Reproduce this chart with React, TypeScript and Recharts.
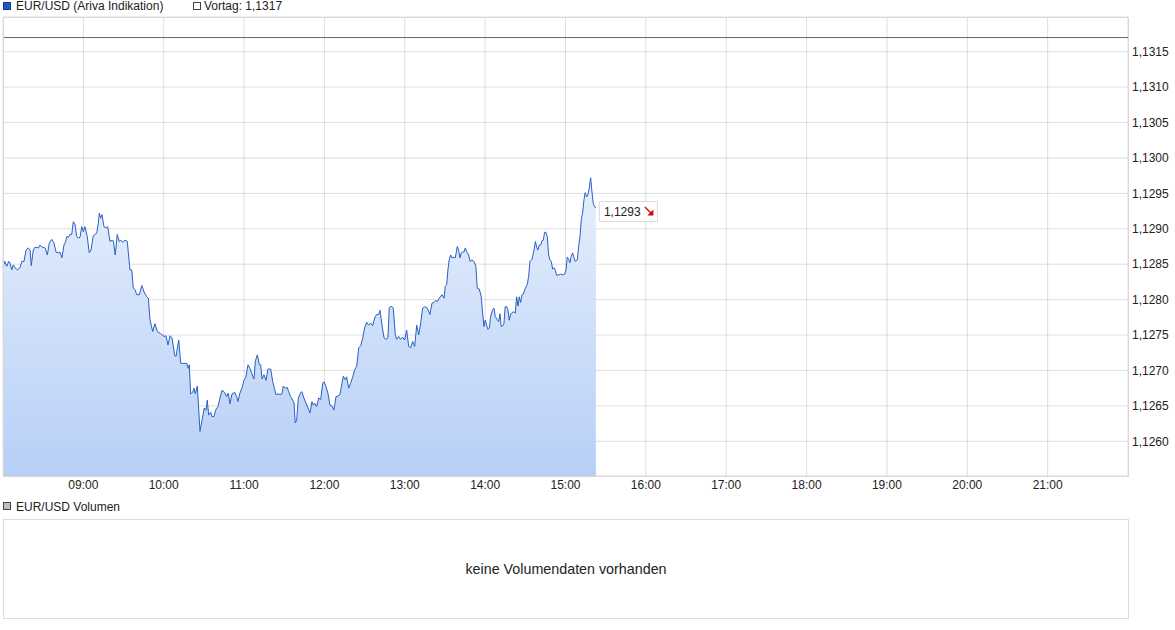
import React from 'react';
import { AreaChart, Area, XAxis, YAxis, CartesianGrid, ReferenceLine, ReferenceDot } from 'recharts';

// minutes after 08:00
const TIMES = [
  0, 1.3, 2.8, 4.3, 5.2, 6.5, 7.7, 9.0, 10.7, 12.7,
  14.0, 15.7, 17.2, 18.9, 20.2, 21.1, 22.6, 23.9, 26.4, 27.6,
  29.3, 31.4, 33.1, 34.6, 36.4, 38.1, 39.6, 41.3, 42.6, 44.0,
  45.5, 46.8, 47.6, 48.8, 50.0, 51.3, 52.5, 53.8, 55.0, 56.2,
  57.5, 58.8, 60.0, 61.2, 62.9, 64.4, 65.7, 67.4, 70.0, 71.2,
  71.9, 72.9, 73.9, 75.4, 76.9, 78.2, 79.9, 81.4, 82.4, 83.8,
  85.3, 86.8, 87.9, 89.4, 91.1, 92.8, 94.8, 96.1, 97.3, 98.6,
  99.8, 101.8, 103.6, 105.3, 107.3, 108.5, 109.8, 111.8, 113.5, 115.2,
  117.7, 120.2, 121.7, 123.2, 124.7, 126.2, 128.2, 129.2, 131.2, 132.7,
  134.6, 137.2, 138.3, 139.1, 140.1, 141.6, 142.6, 143.6, 145.1, 147.1,
  148.6, 150.3, 151.6, 152.5, 153.6, 155.1, 156.0, 157.5, 159.0, 160.5,
  162.0, 163.5, 165.5, 167.0, 168.2, 169.5, 171.0, 173.0, 174.5, 175.4,
  176.9, 178.4, 179.9, 181.4, 182.9, 184.4, 185.9, 187.4, 188.4, 189.9,
  191.4, 192.4, 193.4, 194.9, 196.4, 197.8, 199.9, 201.4, 202.9, 203.8,
  205.3, 206.8, 208.3, 209.3, 210.8, 212.3, 213.3, 214.8, 216.3, 217.3,
  218.2, 219.3, 220.5, 222.3, 223.2, 224.7, 226.2, 227.7, 229.2, 230.7,
  231.7, 232.7, 234.2, 235.7, 237.2, 238.7, 239.7, 241.2, 242.6, 244.1,
  245.6, 247.1, 248.6, 250.1, 251.6, 253.1, 254.1, 255.6, 256.6, 258.1,
  259.6, 261.1, 262.6, 264.1, 265.6, 267.1, 268.6, 270.0, 271.5, 273.0,
  274.5, 276.0, 277.5, 279.0, 280.5, 281.5, 283.0, 284.5, 285.9, 287.4,
  288.4, 289.9, 291.4, 292.9, 293.9, 295.4, 296.9, 298.4, 299.9, 301.4,
  302.9, 304.4, 305.9, 307.4, 308.9, 310.4, 311.9, 313.3, 314.8, 316.8,
  318.8, 320.3, 321.8, 323.3, 324.3, 325.7, 327.8, 329.3, 330.2, 331.3,
  332.2, 333.2, 334.3, 335.2, 336.7, 337.7, 339.2, 340.2, 341.2, 342.2,
  343.2, 344.2, 345.2, 346.2, 347.7, 348.7, 350.2, 351.6, 353.1, 354.1,
  355.6, 357.1, 358.1, 359.1, 360.1, 361.1, 362.1, 363.1, 364.1, 365.6,
  366.6, 367.6, 369.0, 370.1, 371.1, 372.0, 373.1, 374.0, 375.0, 376.1,
  377.0, 378.0, 379.1, 380.0, 381.0, 382.5, 383.5, 384.5, 385.5, 386.5,
  387.5, 388.5, 390.0, 391.4, 392.5, 393.5, 395.0, 396.5, 397.5, 398.5,
  399.4, 400.4, 401.5, 402.4, 403.4, 404.4, 405.4, 406.4, 407.4, 408.4,
  409.4, 410.4, 411.4, 412.3, 413.4, 414.9, 416.4, 417.9, 419.4, 420.4,
  421.3, 422.3, 423.3, 424.3, 425.3, 426.3, 427.3, 428.8, 429.8, 430.8,
  431.8, 432.8, 433.8, 434.7, 435.8, 436.8, 437.7, 438.8, 439.7, 440.7,
  441.7, 442.7,
];

const PRICES = [
  1.12845, 1.12854, 1.12847, 1.12854, 1.12852, 1.12842, 1.12849, 1.12845, 1.12842, 1.12845,
  1.12854, 1.12854, 1.12870, 1.12873, 1.12870, 1.12848, 1.12870, 1.12874, 1.12873, 1.12877,
  1.12874, 1.12873, 1.12863, 1.12880, 1.12885, 1.12880, 1.12867, 1.12866, 1.12867, 1.12859,
  1.12877, 1.12882, 1.12889, 1.12888, 1.12892, 1.12892, 1.12910, 1.12906, 1.12889, 1.12887,
  1.12888, 1.12903, 1.12896, 1.12903, 1.12889, 1.12866, 1.12870, 1.12890, 1.12894, 1.12908,
  1.12922, 1.12915, 1.12920, 1.12903, 1.12901, 1.12903, 1.12882, 1.12884, 1.12883, 1.12863,
  1.12892, 1.12882, 1.12884, 1.12881, 1.12884, 1.12882, 1.12842, 1.12842, 1.12816, 1.12814,
  1.12807, 1.12807, 1.12820, 1.12811, 1.12804, 1.12802, 1.12771, 1.12755, 1.12766, 1.12755,
  1.12752, 1.12748, 1.12749, 1.12736, 1.12749, 1.12746, 1.12721, 1.12720, 1.12743, 1.12710,
  1.12710, 1.12710, 1.12703, 1.12708, 1.12667, 1.12669, 1.12675, 1.12667, 1.12678, 1.12614,
  1.12630, 1.12647, 1.12644, 1.12658, 1.12637, 1.12641, 1.12635, 1.12635, 1.12645, 1.12649,
  1.12661, 1.12672, 1.12669, 1.12663, 1.12668, 1.12653, 1.12667, 1.12669, 1.12663, 1.12656,
  1.12668, 1.12675, 1.12686, 1.12691, 1.12708, 1.12703, 1.12695, 1.12688, 1.12713, 1.12722,
  1.12708, 1.12708, 1.12688, 1.12694, 1.12686, 1.12702, 1.12702, 1.12684, 1.12673, 1.12666,
  1.12667, 1.12666, 1.12667, 1.12678, 1.12675, 1.12676, 1.12670, 1.12663, 1.12658, 1.12654,
  1.12626, 1.12630, 1.12661, 1.12669, 1.12670, 1.12661, 1.12654, 1.12647, 1.12640, 1.12656,
  1.12651, 1.12654, 1.12649, 1.12661, 1.12659, 1.12682, 1.12684, 1.12677, 1.12668, 1.12651,
  1.12650, 1.12644, 1.12663, 1.12664, 1.12666, 1.12682, 1.12692, 1.12687, 1.12691, 1.12675,
  1.12682, 1.12691, 1.12701, 1.12706, 1.12732, 1.12735, 1.12746, 1.12760, 1.12768, 1.12764,
  1.12767, 1.12763, 1.12774, 1.12779, 1.12779, 1.12785, 1.12764, 1.12746, 1.12744, 1.12746,
  1.12788, 1.12791, 1.12788, 1.12750, 1.12744, 1.12748, 1.12744, 1.12747, 1.12743, 1.12757,
  1.12734, 1.12732, 1.12741, 1.12734, 1.12764, 1.12750, 1.12767, 1.12788, 1.12790, 1.12788,
  1.12779, 1.12795, 1.12796, 1.12799, 1.12797, 1.12802, 1.12807, 1.12802, 1.12819, 1.12821,
  1.12842, 1.12857, 1.12863, 1.12859, 1.12860, 1.12859, 1.12875, 1.12870, 1.12859, 1.12866,
  1.12868, 1.12867, 1.12873, 1.12868, 1.12863, 1.12854, 1.12856, 1.12854, 1.12847, 1.12816,
  1.12815, 1.12804, 1.12781, 1.12762, 1.12771, 1.12764, 1.12758, 1.12760, 1.12776, 1.12786,
  1.12788, 1.12776, 1.12772, 1.12769, 1.12780, 1.12762, 1.12763, 1.12766, 1.12790, 1.12790,
  1.12786, 1.12771, 1.12780, 1.12781, 1.12783, 1.12781, 1.12804, 1.12791, 1.12804, 1.12796,
  1.12807, 1.12808, 1.12816, 1.12821, 1.12833, 1.12854, 1.12857, 1.12870, 1.12882, 1.12874,
  1.12870, 1.12877, 1.12877, 1.12883, 1.12884, 1.12895, 1.12895, 1.12889, 1.12863, 1.12856,
  1.12854, 1.12843, 1.12845, 1.12842, 1.12834, 1.12835, 1.12836, 1.12835, 1.12836, 1.12842,
  1.12860, 1.12857, 1.12852, 1.12861, 1.12866, 1.12860, 1.12854, 1.12856, 1.12875, 1.12889,
  1.12913, 1.12923, 1.12941, 1.12951, 1.12945, 1.12948, 1.12957, 1.12972, 1.12953, 1.12936,
  1.12931, 1.12930,
];

const HOUR_TICKS = [60, 120, 180, 240, 300, 360, 420, 480, 540, 600, 660, 720, 780];
const PRICE_TICKS = [1.126, 1.1265, 1.127, 1.1275, 1.128, 1.1285, 1.129, 1.1295, 1.13, 1.1305, 1.131, 1.1315];
const PRICE_DOMAIN = [1.12551, 1.13199];
const PREV_CLOSE = 1.1317;
const LAST_PRICE = 1.1293;

const data = TIMES.slice(0, Math.min(TIMES.length, PRICES.length)).map((t, i) => ({ t, price: PRICES[i] }));
const lastT = data[data.length - 1].t;

const FONT = '"Liberation Sans", Arial, sans-serif';
const fmtPrice = (v: number) => v.toFixed(4).replace('.', ',');
const fmtHour = (m: number) => `${String(8 + Math.round(m / 60)).padStart(2, '0')}:00`;

const LastPriceTag = ({ cx, cy }: { cx?: number; cy?: number }) => {
  if (cx == null || cy == null) return null;
  const y = cy + 3.5;
  return (
    <g>
      <rect x={cx + 3.5} y={y - 9.5} width={58} height={20} fill="#fff" stroke="#dcdcdc" />
      <text x={cx + 8} y={y + 4.5} fontSize={12} fontFamily={FONT} fill="#222">
        {fmtPrice(LAST_PRICE)}
      </text>
      <line x1={cx + 49} y1={y - 4} x2={cx + 55.5} y2={y + 2.5} stroke="#e00000" strokeWidth={1.3} />
      <path d={`M${cx + 57.5} ${y + 4.5} L${cx + 57.5} ${y - 1.5} L${cx + 51.5} ${y + 4.5} Z`} fill="#e00000" />
    </g>
  );
};

const square = (left: number, top: number, bg: string, border: string): React.CSSProperties => ({
  position: 'absolute',
  left,
  top,
  width: 8,
  height: 8,
  boxSizing: 'border-box',
  background: bg,
  border: `1px solid ${border}`,
});

const label = (left: number, top: number): React.CSSProperties => ({
  position: 'absolute',
  left,
  top,
  fontSize: 12,
  lineHeight: '12px',
  color: '#222',
  fontFamily: FONT,
  whiteSpace: 'nowrap',
});

export default function App() {
  return (
    <div style={{ position: 'absolute', left: 0, top: 0, width: 1175, height: 630, background: '#fff', fontFamily: FONT }}>
      <span style={square(3, 2, '#2157c2', '#17398a')} />
      <span style={label(16, 0)}>EUR/USD (Ariva Indikation)</span>
      <span style={square(193, 2, '#fff', '#444')} />
      <span style={label(204, 0)}>Vortag: 1,1317</span>

      <div style={{ position: 'absolute', left: 0, top: 0 }}>
        <AreaChart width={1175} height={500} data={data} margin={{ top: 17, right: 0, bottom: 0, left: 3 }}>
          <defs>
            <linearGradient id="eurFill" x1="0" y1="0" x2="0" y2="1">
              <stop offset="0%" stopColor="#e6effc" />
              <stop offset="100%" stopColor="#b7cff7" />
            </linearGradient>
          </defs>
          <XAxis
            dataKey="t"
            type="number"
            domain={[0, 840]}
            ticks={HOUR_TICKS}
            tickFormatter={fmtHour}
            axisLine={false}
            tickLine={false}
            tickSize={0}
            tickMargin={4}
            height={24}
            tick={{ fill: '#222', fontSize: 12, fontFamily: FONT }}
          />
          <YAxis
            orientation="right"
            type="number"
            domain={PRICE_DOMAIN}
            ticks={PRICE_TICKS}
            tickFormatter={fmtPrice}
            axisLine={false}
            tickLine={false}
            tickSize={0}
            tickMargin={4}
            width={47}
            allowDataOverflow
            tick={{ fill: '#222', fontSize: 12, fontFamily: FONT, textAnchor: 'start' }}
          />
          <Area
            type="linear"
            dataKey="price"
            stroke="#2a5fc4"
            strokeWidth={1}
            fill="url(#eurFill)"
            fillOpacity={1}
            dot={false}
            activeDot={false}
            isAnimationActive={false}
          />
          <CartesianGrid stroke="rgba(0,0,0,0.13)" />
          <ReferenceLine y={PREV_CLOSE} stroke="#666" strokeWidth={1} />
          <ReferenceDot x={lastT} y={LAST_PRICE} r={0} shape={(p: any) => <LastPriceTag cx={p.cx} cy={p.cy} />} />
        </AreaChart>
      </div>
      <div
        style={{
          position: 'absolute',
          left: 3,
          top: 17,
          width: 1126,
          height: 460,
          boxSizing: 'border-box',
          border: '1px solid #d8d8d8',
          pointerEvents: 'none',
        }}
      />

      <span style={square(3, 502, '#bdbdbd', '#444')} />
      <span style={label(16, 501)}>EUR/USD Volumen</span>
      <div
        style={{
          position: 'absolute',
          left: 3,
          top: 519,
          width: 1126,
          height: 100,
          boxSizing: 'border-box',
          border: '1px solid #dcdcdc',
          display: 'flex',
          alignItems: 'center',
          justifyContent: 'center',
          fontSize: 14.3,
          color: '#222',
          fontFamily: FONT,
        }}
      >
        keine Volumendaten vorhanden
      </div>
    </div>
  );
}
